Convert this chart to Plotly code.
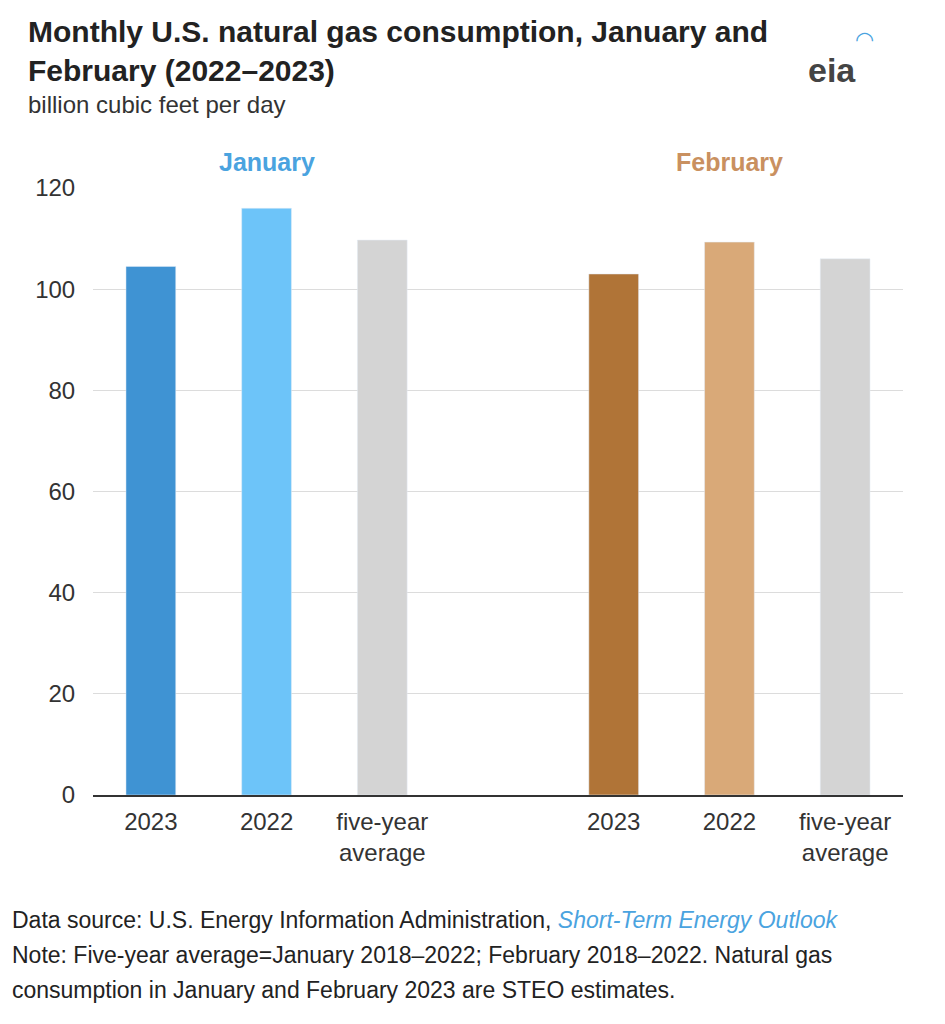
import plotly.graph_objects as go

x_pos = [0, 1, 2, 4, 5, 6]
tick_labels = ["2023", "2022", "five-year<br>average", "2023", "2022", "five-year<br>average"]
values = [104.5, 116.0, 109.7, 103.0, 109.3, 106.0]
colors = ["#3f93d3", "#6dc4f9", "#d4d4d4", "#b07437", "#d9a978", "#d4d4d4"]
months = ["January", "February"]
month_x = [1, 5]
month_colors = ["#4aa3df", "#c99060"]

F = "Liberation Sans, Arial, sans-serif"
O = 8  # page body offset
W, H = 945, 1024
L, R, T, B = 93 - O, W - 903 + O, 188 - O, H - 795 + O

def px(xp, yp):
    xp -= O; yp -= O
    return (xp - L) / (W - L - R), (H - B - yp) / (H - T - B)

fig = go.Figure(go.Bar(x=x_pos, y=values, marker_color=colors, width=0.43, hoverinfo="skip"))
fig.update_layout(
    width=W, height=H, margin=dict(l=L, r=R, t=T, b=B, autoexpand=False),
    paper_bgcolor="white", plot_bgcolor="white", showlegend=False,
    font=dict(family=F, size=24, color="#333"),
)
fig.update_xaxes(range=[-0.5, 6.5], tickvals=x_pos, ticktext=tick_labels, showline=True,
                 linecolor="#333", linewidth=1.5, ticks="outside", ticklen=4, tickcolor="white",
                 tickfont=dict(size=24, color="#333"))
fig.update_yaxes(range=[0, 120], dtick=20, gridcolor="#dcdcdc", zeroline=False, ticks="outside",
                 ticklen=12, tickcolor="white", tickfont=dict(size=24, color="#333"))
for m, mx, mc in zip(months, month_x, month_colors):
    _, my = px(0, 162)
    fig.add_annotation(x=mx, y=my, yref="paper", yanchor="middle", text=f"<b>{m}</b>", showarrow=False,
                       font=dict(size=25, color=mc))

anns = [
    dict(x=26, y=51, text="<b>Monthly U.S. natural gas consumption, January and<br>February (2022–2023)</b>", size=30, color="#222"),
    dict(x=26, y=105, text="billion cubic feet per day", size=24, color="#333"),
    dict(x=10, y=920, text="Data source: U.S. Energy Information Administration, <i><span style='color:#4aa3df'>Short-Term Energy Outlook</span></i>", size=23, color="#222"),
    dict(x=10, y=955, text="Note: Five-year average=January 2018–2022; February 2018–2022. Natural gas", size=23, color="#222"),
    dict(x=10, y=990, text="consumption in January and February 2023 are STEO estimates.", size=23, color="#222"),
]
for a in anns:
    ax, ay = px(a["x"], a["y"])
    fig.add_annotation(x=ax, y=ay, xref="paper", yref="paper", xanchor="left", yanchor="middle",
                       text=a["text"], showarrow=False, align="left",
                       font=dict(size=a["size"], color=a["color"]))
lx, ly = px(858, 70)
fig.add_annotation(x=lx, y=ly, xref="paper", yref="paper", yanchor="middle", text="<b>eia</b>",
                   showarrow=False, font=dict(size=34, color="#444"))
ax2, ay2 = px(876, 40)
fig.add_annotation(x=ax2, y=ay2, xref="paper", yref="paper", yanchor="middle", text="◠",
                   showarrow=False, font=dict(size=22, color="#4aa3df"))
fig.write_html("out.html")
